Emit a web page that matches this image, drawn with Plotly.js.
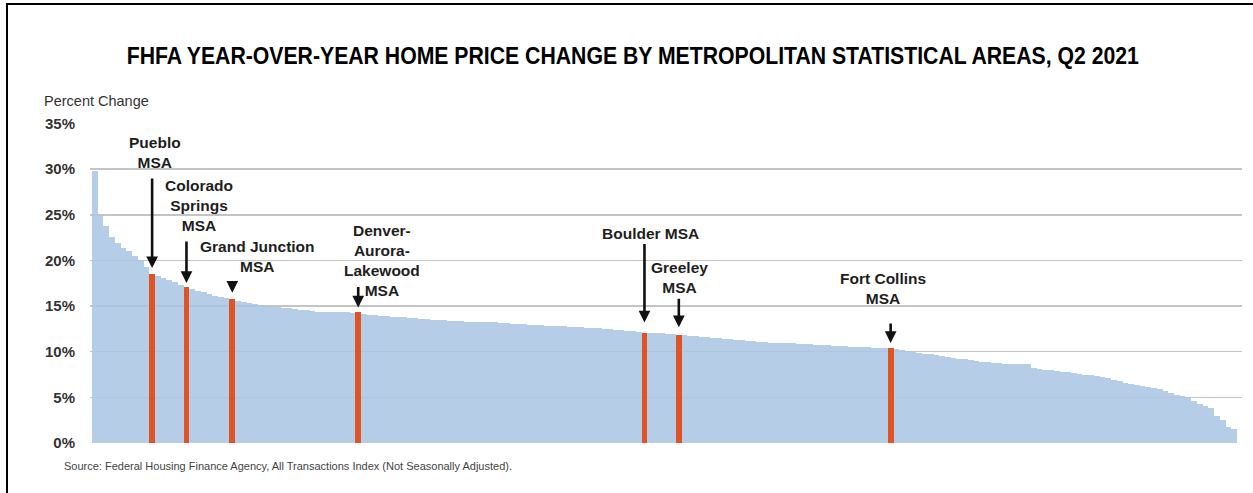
<!DOCTYPE html>
<html>
<head>
<meta charset="utf-8">
<script src="https://cdn.plot.ly/plotly-3.0.1.min.js"></script>
<style>
  html, body { margin: 0; padding: 0; background: #fff; overflow: hidden; }
  #chart { width: 1253px; height: 493px; }
  #frame { position: absolute; left: 6px; top: 3px; width: 1400px; height: 700px;
           border-left: 2px solid #000; border-top: 2px solid #000; pointer-events: none; }
</style>
</head>
<body>
<div id="chart"></div>
<div id="frame"></div>
<script>
// Year-over-year change (%) for each MSA, sorted descending
const changes = [
  29.8, 25.0, 23.8, 22.6, 21.9, 21.4, 21.0, 20.5, 20.0, 19.3,
  18.5, 18.3, 18.1, 17.9, 17.6, 17.3, 17.1, 16.9, 16.7, 16.5,
  16.3, 16.1, 16.0, 15.9, 15.8, 15.6, 15.4, 15.3, 15.2, 15.1,
  15.0, 15.0, 14.9, 14.8, 14.8, 14.7, 14.6, 14.6, 14.5, 14.4,
  14.4, 14.4, 14.3, 14.3, 14.3, 14.2, 14.3, 14.1, 14.0, 14.0,
  13.9, 13.9, 13.8, 13.8, 13.8, 13.7, 13.7, 13.6, 13.6, 13.5,
  13.5, 13.5, 13.4, 13.4, 13.4, 13.3, 13.3, 13.3, 13.2, 13.2,
  13.2, 13.1, 13.1, 13.0, 13.0, 13.0, 12.9, 12.9, 12.9, 12.8,
  12.8, 12.8, 12.8, 12.7, 12.7, 12.7, 12.6, 12.6, 12.6, 12.5,
  12.5, 12.4, 12.4, 12.3, 12.3, 12.2, 12.1, 12.1, 12.0, 12.0,
  11.9, 11.9, 11.8, 11.8, 11.7, 11.7, 11.6, 11.6, 11.5, 11.5,
  11.4, 11.4, 11.3, 11.3, 11.2, 11.2, 11.1, 11.1, 11.0, 11.0,
  10.9, 10.9, 10.9, 10.8, 10.8, 10.8, 10.7, 10.7, 10.7, 10.6,
  10.6, 10.6, 10.5, 10.5, 10.5, 10.5, 10.4, 10.4, 10.4, 10.4,
  10.3, 10.2, 10.1, 10.0, 9.9, 9.8, 9.7, 9.6, 9.5, 9.4,
  9.3, 9.2, 9.2, 9.1, 9.0, 8.9, 8.9, 8.8, 8.8, 8.7,
  8.7, 8.6, 8.6, 8.6, 8.2, 8.1, 8.0, 8.0, 7.9, 7.8,
  7.8, 7.7, 7.6, 7.5, 7.4, 7.3, 7.2, 7.1, 6.9, 6.8,
  6.6, 6.5, 6.3, 6.2, 6.1, 6.0, 5.9, 5.7, 5.5, 5.3,
  5.1, 5.0, 4.6, 4.3, 4.0, 3.8, 3.0, 2.5, 1.8, 1.5
];
// Colorado MSAs highlighted (rank position in the sorted list)
const coloradoNames = ["Pueblo MSA", "Colorado Springs MSA", "Grand Junction MSA",
  "Denver-Aurora-Lakewood MSA", "Boulder MSA", "Greeley MSA", "Fort Collins MSA"];
const coloradoRanks = [10, 16, 24, 46, 96, 102, 139];
const labelTexts = ["Pueblo<br>MSA", "Colorado<br>Springs<br>MSA", "Grand Junction<br>MSA",
  "Denver-<br>Aurora-<br>Lakewood<br>MSA", "Boulder MSA", "Greeley<br>MSA", "Fort Collins<br>MSA"];
const yTicks = [0, 5, 10, 15, 20, 25, 30, 35];

const BLUE = "rgb(170,197,228)";
const ORANGE = "#de5427";

const xIdx = changes.map((_, i) => i);
const colors = changes.map((_, i) => coloradoRanks.includes(i) ? ORANGE : BLUE);
const opac = changes.map((_, i) => coloradoRanks.includes(i) ? 1 : 0.86);

// label placement (data coordinates) and arrow geometry (pixels)
const labelPos = [[10.5, 31.8], [18.2, 26.0], [28.4, 20.4], [50.2, 20.0], [97.0, 22.9], [102.1, 18.1], [137.6, 16.9]];
const arrowTail = [-97, -47, -19, -27, -90, -38, -26];
const arrowStand = [6, 4, 6, 5, 10, 8, 5];

const annFont = {family: "Liberation Sans, Arial, sans-serif", size: 15.5, color: "#1e1e1e", weight: 700};
const annotations = [];
coloradoRanks.forEach((r, k) => {
  annotations.push({x: labelPos[k][0], y: labelPos[k][1], xref: "x", yref: "y",
    text: "<b>" + labelTexts[k] + "</b>", showarrow: false, font: annFont,
    xanchor: "center", yanchor: "middle", align: "center"});
  annotations.push({x: r, y: changes[r], xref: "x", yref: "y", text: "",
    showarrow: true, ax: 0, ay: arrowTail[k], arrowhead: 2, arrowsize: 0.9,
    arrowwidth: 2.6, arrowcolor: "#111", standoff: arrowStand[k]});
});
annotations.push({xref: "paper", yref: "paper", x: -0.0417, y: 1.069, xanchor: "left", yanchor: "middle",
  text: "Percent Change", showarrow: false,
  font: {family: "Liberation Sans, Arial, sans-serif", size: 14.5, color: "#333"}});
annotations.push({xref: "paper", yref: "paper", x: -0.0243, y: -0.072, xanchor: "left", yanchor: "middle",
  text: "Source: Federal Housing Finance Agency, All Transactions Index (Not Seasonally Adjusted).", showarrow: false,
  font: {family: "Liberation Sans, Arial, sans-serif", size: 11, color: "#444"}});

const trace = {
  type: "bar", x: xIdx, y: changes,
  marker: {color: colors, opacity: opac, line: {width: 0}},
  hoverinfo: "y"
};

const layout = {
  width: 1253, height: 493,
  margin: {l: 90, r: 11, t: 123, b: 50},
  paper_bgcolor: "#fff", plot_bgcolor: "#fff",
  bargap: 0,
  showlegend: false,
  title: {
    text: "<b>FHFA YEAR-OVER-YEAR HOME PRICE CHANGE BY METROPOLITAN STATISTICAL AREAS, Q2 2021</b>",
    font: {family: "Liberation Sans Narrow, Arial Narrow, Liberation Sans, sans-serif", size: 24, color: "#000"},
    xref: "container", yref: "container", x: 0.505, y: 0.888, xanchor: "center", yanchor: "middle"
  },
  xaxis: {range: [-0.85, 200.37], showticklabels: false, showgrid: false, zeroline: false,
          showline: false, ticks: "", fixedrange: true},
  yaxis: {range: [0, 35.05], tickvals: yTicks, ticktext: yTicks.map(v => v + "%"),
          showgrid: true, gridcolor: "#c4c4c4", gridwidth: 1.5, zeroline: false, showline: false,
          ticks: "", ticklabelstandoff: 14,
          tickfont: {family: "Liberation Sans, Arial, sans-serif", size: 15, color: "#333", weight: 700}},
  annotations: annotations
};

Plotly.newPlot("chart", [trace], layout, {displayModeBar: false, staticPlot: true}).then(gd => {
  // condense the title horizontally to match the narrow typeface of the original
  const t = gd.querySelector(".g-gtitle text.gtitle");
  if (t) {
    const bb = t.getBBox();
    const target = 1013;
    if (bb.width > target) {
      const s = target / bb.width;
      const cx = bb.x + bb.width / 2;
      t.setAttribute("transform", `translate(${cx},0) scale(${s},1) translate(${-cx},0)`);
    }
  }
});
</script>
</body>
</html>
